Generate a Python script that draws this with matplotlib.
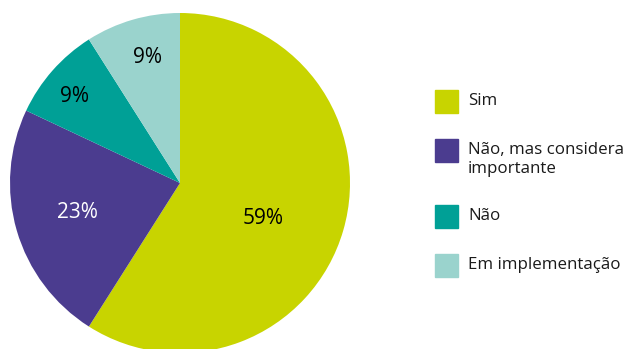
import matplotlib
matplotlib.use("Agg")
import matplotlib.pyplot as plt
from matplotlib.patches import Rectangle
import numpy as np

plt.rcParams['font.family'] = ['Open Sans', 'DejaVu Sans']

categories = ["Sim", "Não, mas considera\nimportante", "Não", "Em implementação"]
values = [59, 23, 9, 9]
colors = ["#c8d400", "#4b3c8f", "#00a096", "#9ad3cd"]
label_colors = ["black", "white", "black", "black"]
label_radius = [0.53, 0.63, 0.80, 0.765]
label_angle_shift = [-7, 0, 2, -1.8]

W, H = 627, 349
fig = plt.figure(figsize=(W / 100, H / 100), dpi=100)
cx, cy, R = 180, 183, 170
ax = fig.add_axes([(cx - R) / W, (H - cy - R) / H, 2 * R / W, 2 * R / H])
wedges, _ = ax.pie(values, colors=colors, startangle=90, counterclock=False,
                   radius=1.0, wedgeprops=dict(linewidth=0))
ax.set_xlim(-1, 1)
ax.set_ylim(-1, 1)
ax.axis("off")

for w, v, r, sh, tc in zip(wedges, values, label_radius, label_angle_shift, label_colors):
    ang = np.deg2rad((w.theta1 + w.theta2) / 2 + sh)
    ax.text(r * np.cos(ang), r * np.sin(ang), f"{v}%", ha="center", va="center",
            fontsize=15, color=tc)

# legend
row_y = [101, 150, 216, 265]
sq = 23
for cat, col, y in zip(categories, colors, row_y):
    fig.patches.append(Rectangle(((435) / W, (H - y - sq / 2) / H), sq / W, sq / H,
                                 transform=fig.transFigure, color=col))
    lines = cat.split("\n")
    for i, ln in enumerate(lines):
        fig.text(468 / W, (H - y - i * 19) / H, ln, ha="left", va="center",
                 fontsize=12.2, color="#1a1a1a")

fig.savefig("out.png", dpi=100)
